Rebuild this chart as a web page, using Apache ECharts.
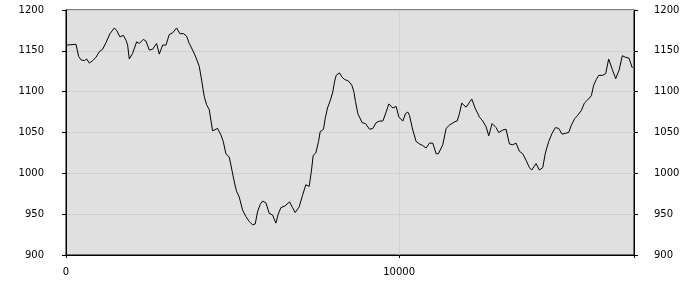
<!DOCTYPE html>
<html>
<head>
<meta charset="utf-8">
<script src="https://cdn.jsdelivr.net/npm/echarts@6/dist/echarts.min.js"></script>
<style>html,body{margin:0;padding:0;background:#fff}#c{width:700px;height:300px}</style>
</head>
<body>
<div id="c"></div>
<script>
var xValues = [0,300,380,450,550,620,700,800,900,1000,1100,1200,1320,1450,1520,1620,1720,1800,1850,1900,2000,2120,2200,2320,2400,2500,2600,2650,2720,2800,2900,3000,3100,3200,3320,3420,3530,3620,3700,3800,3900,4000,4080,4150,4220,4300,4400,4450,4550,4650,4720,4800,4900,4990,5060,5120,5200,5300,5400,5500,5600,5680,5750,5830,5900,6000,6100,6200,6300,6370,6450,6570,6710,6800,6880,7000,7100,7200,7300,7370,7420,7500,7580,7630,7730,7780,7850,7940,8010,8060,8110,8210,8280,8360,8480,8580,8640,8690,8760,8890,8990,9110,9210,9310,9410,9510,9610,9690,9810,9910,9990,10110,10190,10260,10310,10410,10510,10610,10710,10810,10910,11010,11110,11180,11310,11410,11510,11660,11740,11810,11880,12010,12180,12280,12410,12510,12610,12690,12790,12910,12990,13110,13210,13310,13410,13510,13610,13710,13810,13910,13980,14110,14210,14310,14390,14490,14590,14690,14790,14890,14990,15090,15170,15270,15360,15470,15560,15660,15770,15840,15920,15990,16110,16200,16290,16400,16500,16600,16700,16800,16900,17000];
var yValues = [1157,1158,1143,1139,1138,1140,1135,1138,1142,1149,1152,1160,1171,1178,1175,1167,1169,1163,1157,1140,1147,1161,1159,1164,1162,1151,1152,1153,1159,1146,1157,1157,1170,1172,1178,1171,1171,1168,1159,1151,1142,1131,1112,1094,1084,1078,1052,1053,1055,1047,1039,1024,1020,1002,988,978,971,955,947,941,937,938,953,962,966,964,951,949,939,950,958,960,965,958,952,959,973,986,984,1004,1022,1025,1039,1051,1054,1067,1080,1090,1100,1112,1120,1123,1118,1115,1113,1108,1100,1088,1073,1062,1061,1054,1055,1062,1064,1064,1075,1085,1080,1082,1069,1064,1073,1075,1071,1053,1039,1036,1034,1031,1037,1037,1024,1024,1035,1055,1059,1063,1064,1073,1086,1081,1091,1080,1069,1064,1057,1046,1061,1056,1050,1053,1054,1036,1035,1037,1027,1024,1016,1007,1004,1012,1004,1007,1025,1039,1049,1056,1055,1048,1049,1050,1059,1067,1071,1077,1086,1090,1095,1108,1115,1120,1120,1122,1140,1127,1116,1126,1144,1142,1141,1129];
var xTickStep = 10000;
var yMin = 900, yMax = 1200, yStep = 50;
var xMin = 0, xMax = 17050;

var data = xValues.map(function (x, i) { return [x, yValues[i]]; });
var font = 'DejaVu Sans';
var chart = echarts.init(document.getElementById('c'), null, {renderer: 'canvas'});
var yAxisBase = function (pos, margin) {
  return {
    type: 'value', position: pos, min: yMin, max: yMax, interval: yStep,
    axisLine: {show: true, lineStyle: {color: '#000', width: 1}},
    axisTick: {show: true, inside: false, length: 4, lineStyle: {color: '#000', width: 1}},
    axisLabel: {color: '#000', fontFamily: font, fontSize: 10, margin: margin,
      formatter: function (v) { return String(v); }},
    splitLine: {show: pos === 'left', lineStyle: {color: '#d0d0d0', width: 1}}
  };
};
chart.setOption({
  animation: false,
  backgroundColor: '#fff',
  grid: {left: 66, right: 66, top: 10, bottom: 45, show: true, backgroundColor: '#e0e0e0', borderColor: '#000', borderWidth: 1, containLabel: false},
  xAxis: {
    type: 'value', min: xMin, max: xMax, interval: xTickStep,
    axisLine: {show: true, lineStyle: {color: '#000'}},
    axisTick: {show: true, inside: false, length: 3, lineStyle: {color: '#000', width: 1}},
    axisLabel: {color: '#000', fontFamily: font, fontSize: 10, margin: 12, hideOverlap: false,
      formatter: function (v) { return v % xTickStep === 0 ? String(v) : ''; }},
    splitLine: {show: true, lineStyle: {color: '#d0d0d0', width: 1}}
  },
  yAxis: [yAxisBase('left', 22), yAxisBase('right', 20)],
  series: [{
    type: 'line', data: data, showSymbol: false, symbol: 'none',
    lineStyle: {color: '#000', width: 1}, itemStyle: {color: '#000'}
  }]
});
</script>
</body>
</html>
